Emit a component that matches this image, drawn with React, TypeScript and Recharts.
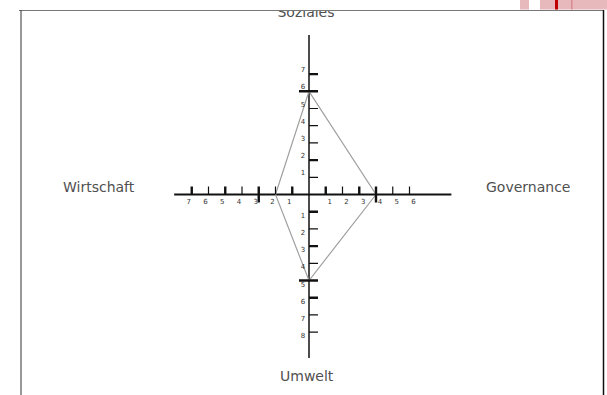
import { ReferenceLine, Scatter, ScatterChart, XAxis, YAxis } from "recharts";

// four dimensions, clockwise from the top
const dimensions = ["Soziales", "Governance", "Umwelt", "Wirtschaft"];
const scores = [6, 4, 5, 2];

// tick positions along the cross axes
const xTickValues = [-7, -6, -5, -4, -3, -2, -1, 1, 2, 3, 4, 5, 6];
const yTickValues = [7, 6, 5, 4, 3, 2, 1, -1, -2, -3, -4, -5, -6, -7, -8];
const boldXTicks = [-7, -5, -3, -1, 1, 3];
const boldYTicks = [7, 2, -1, -3, -6];
const markerXTicks = [-3, 4];
const markerYTicks = [6, -5];

// axis extents in chart units
const xAxisRange = [-8.05, 8.5];
const yAxisRange = [-9.5, 9.27];

const W = 607;
const H = 395;

const diamond = [
  { x: 0, y: scores[0] },
  { x: scores[1], y: 0 },
  { x: 0, y: -scores[2] },
  { x: -scores[3], y: 0 },
  { x: 0, y: scores[0] },
];

const xTicks = xTickValues.map((v) => ({ x: v, y: 0 }));
const yTicks = yTickValues.map((v) => ({ x: 0, y: v }));

const tickFont = { fontFamily: "DejaVu Sans", fontSize: 7, fill: "#333" };

function XTick(props: any) {
  const { cx, cy, payload } = props;
  const v = payload.x;
  const bold = boldXTicks.includes(v) || markerXTicks.includes(v);
  const marker = markerXTicks.includes(v);
  return (
    <g>
      <line x1={cx} x2={cx} y1={cy - 8} y2={marker ? cy + 8 : cy} stroke="#111" strokeWidth={bold ? 2.4 : 1.2} />
      <text x={cx + (v < 0 ? -3 : 4)} y={cy + 9} textAnchor="middle" {...tickFont}>
        {Math.abs(v)}
      </text>
    </g>
  );
}

function YTick(props: any) {
  const { cx, cy, payload } = props;
  const v = payload.y;
  const bold = boldYTicks.includes(v) || markerYTicks.includes(v);
  const marker = markerYTicks.includes(v);
  return (
    <g>
      <line x1={marker ? cx - 10 : cx} x2={cx + 9} y1={cy} y2={cy} stroke="#111" strokeWidth={bold ? 2.4 : 1.2} />
      <text x={cx - 6} y={v > 0 ? cy - 2 : cy + 6} textAnchor="middle" {...tickFont}>
        {Math.abs(v)}
      </text>
    </g>
  );
}

const labelFont = { fontFamily: "DejaVu Sans", fontSize: 14, fill: "#505050" };

export default function App() {
  return (
    <div style={{ position: "absolute", left: 0, top: 0, width: W, height: H, background: "#fff" }}>
      <ScatterChart width={W} height={H} margin={{ top: 5.3, right: 13.25, bottom: 11.3, left: 7.5 }}>
        <XAxis type="number" dataKey="x" domain={[-18, 17]} allowDataOverflow hide />
        <YAxis type="number" dataKey="y" domain={[-11, 11]} allowDataOverflow hide />
        <Scatter
          data={diamond}
          line={{ stroke: "#a0a0a0", strokeWidth: 1.2 }}
          shape={() => <g />}
          isAnimationActive={false}
        />
        <ReferenceLine
          segment={[{ x: xAxisRange[0], y: 0 }, { x: xAxisRange[1], y: 0 }]}
          stroke="#111"
          strokeWidth={2}
        />
        <ReferenceLine
          segment={[{ x: 0, y: yAxisRange[0] }, { x: 0, y: yAxisRange[1] }]}
          stroke="#111"
          strokeWidth={1.5}
        />
        <Scatter data={xTicks} shape={XTick} isAnimationActive={false} />
        <Scatter data={yTicks} shape={YTick} isAnimationActive={false} />
      </ScatterChart>
      <svg width={W} height={H} style={{ position: "absolute", left: 0, top: 0, pointerEvents: "none" }}>
        <text x={306} y={16.5} textAnchor="middle" {...labelFont}>{dimensions[0]}</text>
        <text x={486} y={192} {...labelFont}>{dimensions[1]}</text>
        <text x={280} y={381} {...labelFont}>{dimensions[2]}</text>
        <text x={63} y={192} {...labelFont}>{dimensions[3]}</text>
        <rect x={0} y={0} width={W} height={10} fill="#fff" />
        <line x1={19} x2={604} y1={10.5} y2={10.5} stroke="#777" strokeWidth={1} />
        <line x1={21} x2={21} y1={10} y2={H} stroke="#333" strokeWidth={1} />
        <line x1={603.5} x2={603.5} y1={10} y2={H} stroke="#111" strokeWidth={1.5} />
        <rect x={520} y={0} width={9} height={9.5} fill="#e7b8bc" />
        <rect x={540} y={0} width={67} height={9.5} fill="#e7b8bc" />
        <rect x={555} y={0} width={3} height={9.5} fill="#c00000" />
        <rect x={571} y={0} width={1.5} height={9.5} fill="#d98a90" />
      </svg>
    </div>
  );
}
